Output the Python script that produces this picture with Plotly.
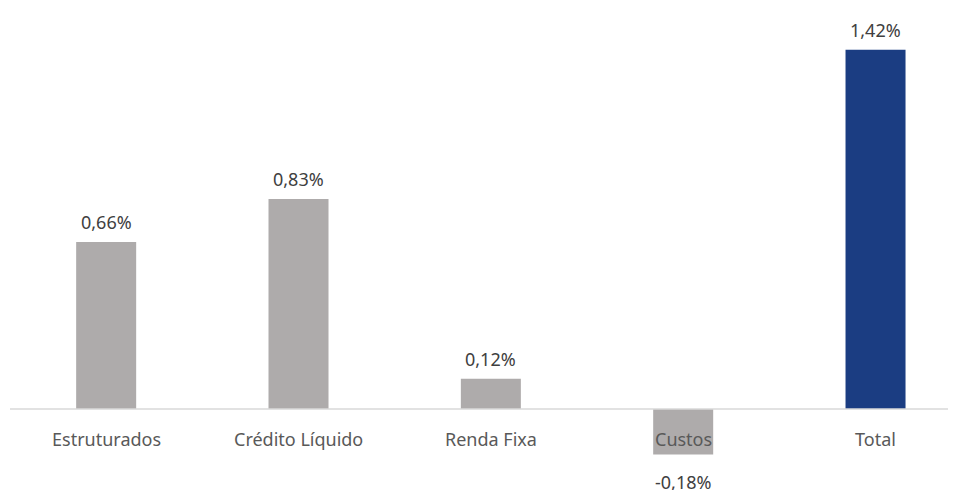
import plotly.graph_objects as go

categories = ["Estruturados", "Crédito Líquido", "Renda Fixa", "Custos", "Total"]
values = [0.66, 0.83, 0.12, -0.18, 1.42]
value_labels = ["0,66%", "0,83%", "0,12%", "-0,18%", "1,42%"]
colors = ["#AEABAB", "#AEABAB", "#AEABAB", "#AEABAB", "#1B3D82"]

FONT = "Noto Sans"
TXT = "#404040"
SIZE = 18

fig = go.Figure()
fig.add_trace(go.Bar(
    x=categories, y=values, marker=dict(color=colors, line=dict(width=0)),
    width=0.312, hoverinfo="skip",
))

# zero line
fig.add_shape(type="line", xref="paper", yref="y", x0=0, x1=1, y0=0, y1=0,
              line=dict(color="#D9D9D9", width=1.5), layer="above")

annotations = []
for c, v, lab in zip(categories, values, value_labels):
    if v >= 0:
        annotations.append(dict(x=c, y=v, text=lab, showarrow=False, yanchor="middle",
                                yshift=20, font=dict(family=FONT, size=SIZE, color=TXT)))
    else:
        annotations.append(dict(x=c, y=v, text=lab, showarrow=False, yanchor="middle",
                                yshift=-27, font=dict(family=FONT, size=SIZE, color=TXT)))
    annotations.append(dict(x=c, y=0, text=c, showarrow=False, yanchor="middle",
                            yshift=-30, font=dict(family=FONT, size=SIZE, color="#595959")))

fig.update_layout(
    width=956, height=490,
    margin=dict(l=2, r=0, t=0, b=0),
    plot_bgcolor="white", paper_bgcolor="white",
    showlegend=False,
    annotations=annotations,
    xaxis=dict(range=[-0.5, 4.46], showticklabels=False, showline=False,
               showgrid=False, zeroline=False, ticks=""),
    yaxis=dict(range=[-89/253, 401/253], showticklabels=False, showline=False,
               showgrid=False, zeroline=False, ticks=""),
)

fig.write_html("out.html")
